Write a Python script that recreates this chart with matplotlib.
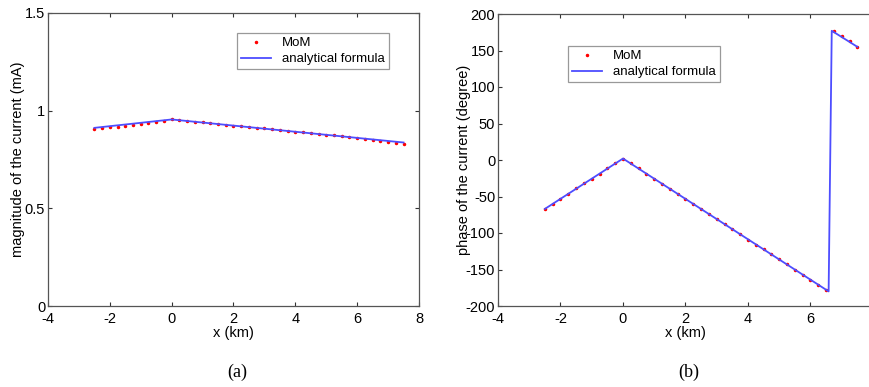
import matplotlib
matplotlib.use('Agg')
import matplotlib.pyplot as plt
import numpy as np

# MoM samples (x in km)
x_mom = [-2.5, -2.25, -2.0, -1.75, -1.5, -1.25, -1.0, -0.75, -0.5, -0.25,
         0.0, 0.25, 0.5, 0.75, 1.0, 1.25, 1.5, 1.75, 2.0, 2.25,
         2.5, 2.75, 3.0, 3.25, 3.5, 3.75, 4.0, 4.25, 4.5, 4.75,
         5.0, 5.25, 5.5, 5.75, 6.0, 6.25, 6.5, 6.75, 7.0, 7.25, 7.5]
mag_mom = [0.905, 0.910, 0.915, 0.918, 0.922, 0.928, 0.932, 0.938, 0.943, 0.948,
           0.955, 0.952, 0.948, 0.944, 0.940, 0.936, 0.932, 0.928, 0.924, 0.920,
           0.916, 0.913, 0.909, 0.905, 0.901, 0.897, 0.893, 0.889, 0.885, 0.881,
           0.877, 0.873, 0.869, 0.865, 0.861, 0.857, 0.852, 0.847, 0.842, 0.837, 0.830]
phase_mom = [-67, -60, -53, -46, -39, -32, -25.5, -18.5, -11.5, -4.5,
             2, -4.5, -11.5, -18.5, -25.5, -32.5, -39.5, -46.5, -53, -60,
             -67, -74, -81, -88, -95, -102, -109, -116, -122, -129,
             -136, -143, -150, -157, -164, -171, -178, 177, 170, 163, 155]

# analytical formula (corner points)
x_mag_an = [-2.5, 0.0, 7.5]
mag_an = [0.912, 0.955, 0.837]
x_ph_an = [-2.5, 0.0, 6.58, 6.68, 7.5]
ph_an = [-67, 2, -180, 177, 155]

plt.rcParams['font.family'] = ['Liberation Sans', 'DejaVu Sans']
plt.rcParams['font.size'] = 10
plt.rcParams['axes.unicode_minus'] = False

fig = plt.figure(figsize=(8.7, 3.87), dpi=100)
W, H = 870.0, 387.0

def ax_at(l, t, r, b):
    return fig.add_axes([l / W, 1 - b / H, (r - l) / W, (b - t) / H])

ax1 = ax_at(48, 13, 419, 306)
ax2 = ax_at(498, 14, 873, 306)

line_c = '#4d4dff'
for ax in (ax1, ax2):
    ax.tick_params(direction='in', top=True, right=True, length=3,
                   labelsize=10.5, pad=2, color='#333333')
    ax.tick_params(axis='x', pad=4)
    for s in ax.spines.values():
        s.set_color('#555555')
        s.set_linewidth(0.9)
    ax.set_xlim(-4, 8)
    ax.set_xticks(np.arange(-4, 9, 2))
    ax.set_xlabel('x (km)', fontsize=10.5, labelpad=0)

ax1.plot(x_mom, mag_mom, '.', color='red', markersize=3, label='MoM')
ax1.plot(x_mag_an, mag_an, '-', color=line_c, lw=1.3, label='analytical formula')
ax1.set_ylim(0, 1.5)
ax1.set_yticks([0, 0.5, 1, 1.5])
ax1.set_yticklabels(['0', '0.5', '1', '1.5'])
ax1.set_ylabel('magnitude of the current (mA)', fontsize=10.5)
ax1.yaxis.set_label_coords((25 - 48) / 371, 0.5)

ax2.plot(x_mom, phase_mom, '.', color='red', markersize=3, label='MoM')
ax2.plot(x_ph_an, ph_an, '-', color=line_c, lw=1.3, label='analytical formula')
ax2.set_ylim(-200, 200)
ax2.set_yticks(np.arange(-200, 201, 50))
ax2.set_ylabel('phase of the current (degree)', fontsize=10.5)
ax2.yaxis.set_label_coords((471 - 498) / 375, 0.5)

leg_kw = dict(numpoints=1, fontsize=9.5, fancybox=False, framealpha=1,
              edgecolor='#999999', handlelength=2.3, borderpad=0.3,
              labelspacing=0.3, handletextpad=0.8, borderaxespad=0)
l1 = ax1.legend(loc='upper left', bbox_to_anchor=((237 - 48) / 371, (306 - 33) / 293), **leg_kw)
l2 = ax2.legend(loc='upper left', bbox_to_anchor=((568 - 498) / 375, (306 - 46) / 292), **leg_kw)
for l in (l1, l2):
    l.get_frame().set_linewidth(0.9)

fig.text(237 / W, 1 - 372 / H, '(a)', family='Liberation Serif', fontsize=13,
         ha='center', va='center')
fig.text(689 / W, 1 - 372 / H, '(b)', family='Liberation Serif', fontsize=13,
         ha='center', va='center')

fig.savefig('out.png', dpi=100)
